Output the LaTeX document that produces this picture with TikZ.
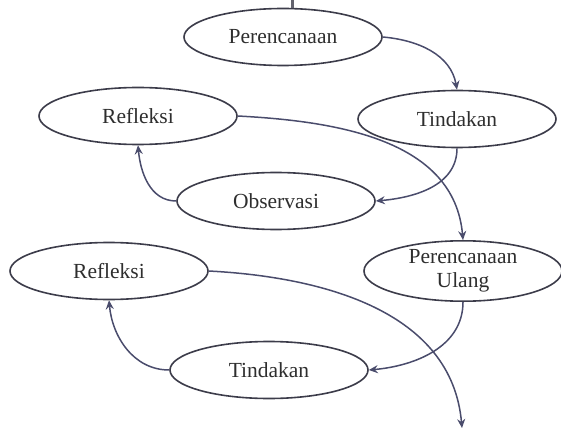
\documentclass[tikz,border=0pt]{standalone}
\usepackage{fontspec}
\setmainfont{Liberation Serif}
\usetikzlibrary{shapes.geometric,arrows.meta}
\definecolor{edgec}{HTML}{3C3C4A}
\definecolor{arrc}{HTML}{4A4C6C}
\definecolor{txtc}{HTML}{2E2E2E}
\tikzset{
  stage/.style={ellipse, draw=edgec, line width=1.6pt, minimum width=198pt, minimum height=57pt, inner sep=0pt, font=\fontsize{21.5}{25}\selectfont, text=txtc, align=center},
  flow/.style={draw=arrc, line width=1.5pt, -{Stealth[length=9pt,width=8pt,inset=3pt]}}
}
\begin{document}
\begin{tikzpicture}[x=1pt,y=1pt]
\useasboundingbox (0,0) rectangle (561,434);
\node[stage] (p1) at (283,397) {Perencanaan};
\node[stage] (t1) at (457,315) {Tindakan};
\node[stage] (r1) at (138,318) {Refleksi};
\node[stage] (o1) at (276,233) {Observasi};
\node[stage] (pu) at (463,163) {Perencanaan\\[-1pt]Ulang};
\node[stage] (r2) at (109,163) {Refleksi};
\node[stage] (t2) at (269,64) {Tindakan};
\coordinate (top) at (292,434);
\draw[edgec!80, line width=3pt] (top) -- (p1.north -| top);
\coordinate (end) at (462,6);
\draw[flow] (p1.east) to[out=-5,in=100] (t1.north);
\draw[flow] (t1.south) to[out=-90,in=5] (o1.east);
\draw[flow] (o1.west) to[out=180,in=-85] (r1.south);
\draw[flow] (r1.east) to[out=-3,in=95] (pu.north);
\draw[flow] (pu.south) to[out=-90,in=5] (t2.east);
\draw[flow] (t2.west) to[out=180,in=-85] (r2.south);
\draw[flow] (r2.east) to[out=-3,in=95] (end);
\end{tikzpicture}
\end{document}
